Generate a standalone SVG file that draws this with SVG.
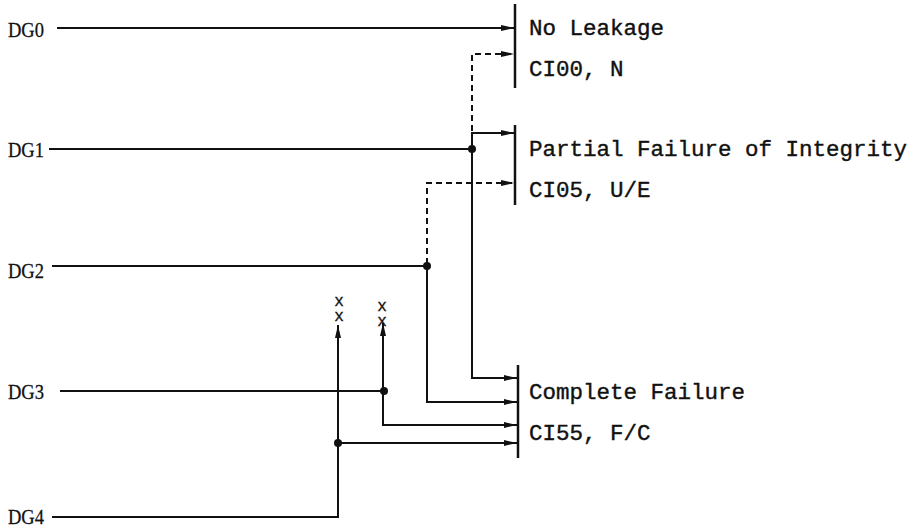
<svg xmlns="http://www.w3.org/2000/svg" width="917" height="529" viewBox="0 0 917 529">
<style>
.ln{fill:none;stroke:#111;stroke-width:2}
.ds{fill:none;stroke:#111;stroke-width:2;stroke-dasharray:6 4}
.bar{stroke:#111;stroke-width:2.5}
.dot{fill:#111}
.lab{font-family:"Liberation Serif",serif;font-size:22px;fill:#111;stroke:#111;stroke-width:0.3}
.out{font-family:"Liberation Mono",monospace;font-size:22.5px;fill:#111;stroke:#111;stroke-width:0.4}
.x{font-family:"Liberation Mono",monospace;font-size:16px;fill:#111;stroke:#111;stroke-width:0.3;writing-mode:vertical-rl;text-orientation:upright;letter-spacing:-3px}
</style>
<defs>
<marker id="ar" markerUnits="userSpaceOnUse" markerWidth="14" markerHeight="8" refX="13" refY="4" orient="auto">
<path d="M0,1 L13,4 L0,7 Z" fill="#111"/>
</marker>
</defs>
<rect width="917" height="529" fill="#fff"/>
<g id="DG0"><text class="lab" x="8" y="37" textLength="36" lengthAdjust="spacingAndGlyphs">DG0</text></g>
<g id="DG1"><text class="lab" x="8" y="157" textLength="36" lengthAdjust="spacingAndGlyphs">DG1</text></g>
<g id="DG2"><text class="lab" x="8" y="278" textLength="36" lengthAdjust="spacingAndGlyphs">DG2</text></g>
<g id="DG3"><text class="lab" x="8" y="399" textLength="36" lengthAdjust="spacingAndGlyphs">DG3</text></g>
<g id="DG4"><text class="lab" x="8" y="524" textLength="36" lengthAdjust="spacingAndGlyphs">DG4</text></g>
<g id="CI00">
<line class="bar" x1="515" y1="4" x2="515" y2="88"/>
<text class="out" x="529" y="35">No Leakage</text>
<text class="out" x="529" y="76">CI00, N</text>
</g>
<g id="CI05">
<line class="bar" x1="515" y1="125" x2="515" y2="205"/>
<text class="out" x="529" y="156">Partial Failure of Integrity</text>
<text class="out" x="529" y="197">CI05, U/E</text>
</g>
<g id="CI55">
<line class="bar" x1="518" y1="365" x2="518" y2="458"/>
<text class="out" x="529" y="399">Complete Failure</text>
<text class="out" x="529" y="440">CI55, F/C</text>
</g>
<g id="connectors">
<path class="ln" d="M57,28 H514" marker-end="url(#ar)"/>
<path class="ln" d="M49,149 H472"/>
<path class="ln" d="M472,149 V133 H514" marker-end="url(#ar)"/>
<path class="ds" d="M472,131 V54 H514" marker-end="url(#ar)"/>
<path class="ln" d="M472,149 V378 H517" marker-end="url(#ar)"/>
<path class="ln" d="M52,266 H427"/>
<path class="ds" d="M427,264 V183 H514" marker-end="url(#ar)"/>
<path class="ln" d="M427,266 V402 H517" marker-end="url(#ar)"/>
<path class="ln" d="M60,391 H384"/>
<path class="ln" d="M383,391 V323" marker-end="url(#ar)"/>
<path class="ln" d="M383,391 V425 H517" marker-end="url(#ar)"/>
<path class="ln" d="M52,517 H338 V325" marker-end="url(#ar)"/>
<path class="ln" d="M338,443 H517" marker-end="url(#ar)"/>
<circle class="dot" cx="472" cy="149" r="4"/>
<circle class="dot" cx="427" cy="266" r="4"/>
<circle class="dot" cx="384" cy="391" r="4"/>
<circle class="dot" cx="338" cy="443" r="4"/>
<text class="x" x="339" y="293">xx</text>
<text class="x" x="382" y="298">xx</text>
</g>
</svg>
